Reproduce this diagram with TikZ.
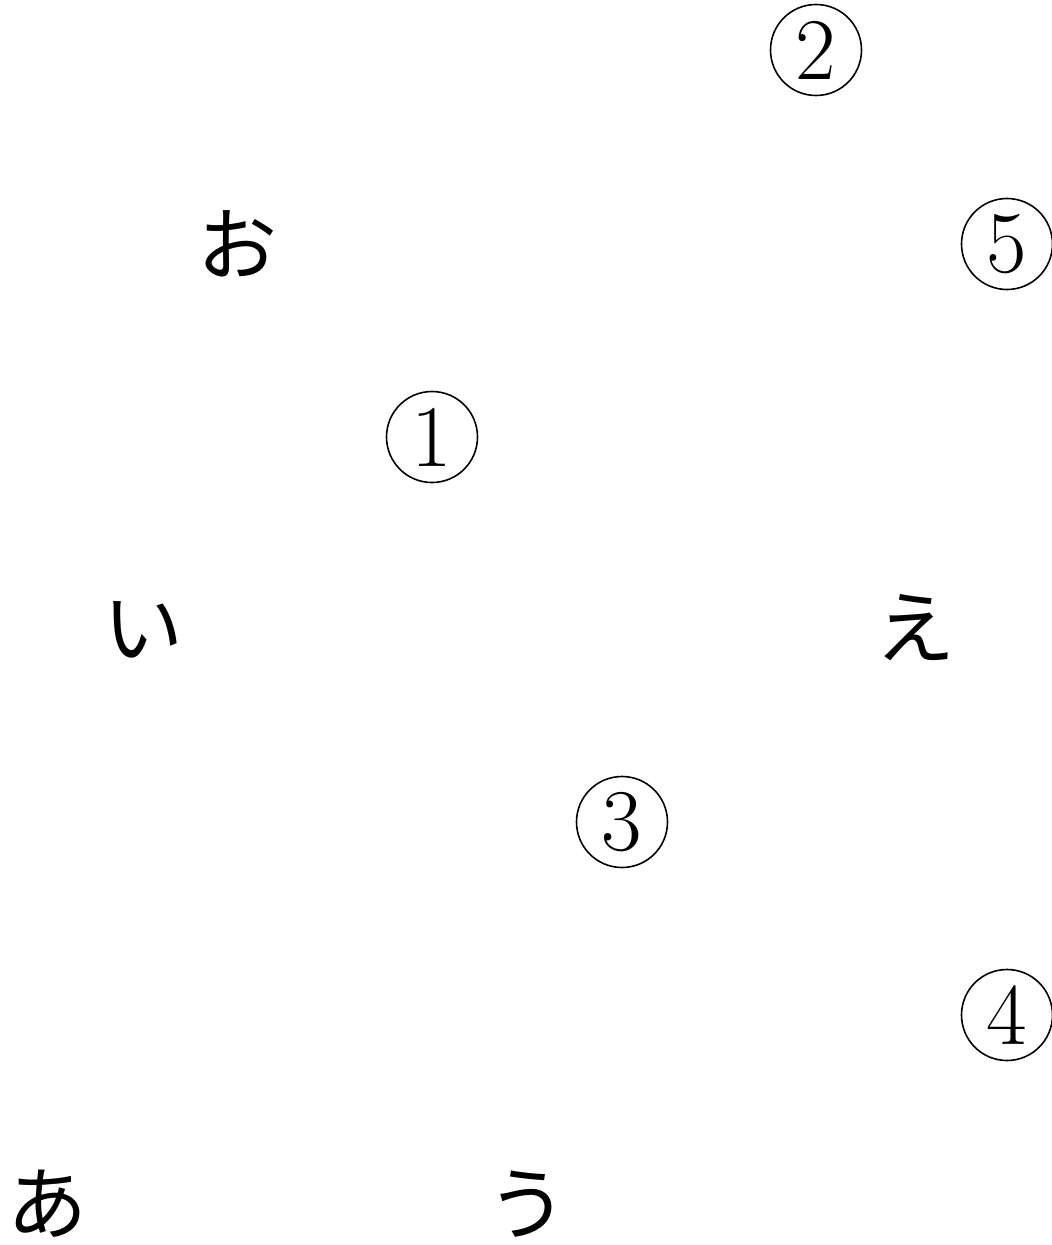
\documentclass[tikz,border=0pt]{standalone}
\usepackage{fontspec}
\newfontfamily\cjk{Noto Sans CJK JP}
\tikzset{
  kana/.style={inner sep=0pt, font=\cjk\fontsize{80}{90}\selectfont},
  cnum/.style={circle, draw, line width=1.6pt, minimum size=91pt, inner sep=0pt, font=\fontsize{88}{90}\selectfont}
}
\begin{document}
\begin{tikzpicture}[x=1pt,y=1pt]
\useasboundingbox (0,0) rectangle (1052,-1245);
\node[cnum] (n2) at (816,-50) {2};
\node[kana] (o) at (237,-244) {お};
\node[cnum] (n5) at (1007,-244) {5};
\node[cnum] (n1) at (432,-437) {1};
\node[kana] (i) at (143,-630) {い};
\node[kana] (e) at (915,-628) {え};
\node[cnum] (n3) at (622,-822) {3};
\node[cnum] (n4) at (1007,-1015) {4};
\node[kana] (a) at (48,-1204) {あ};
\node[kana] (u) at (527,-1204) {う};
\end{tikzpicture}
\end{document}
